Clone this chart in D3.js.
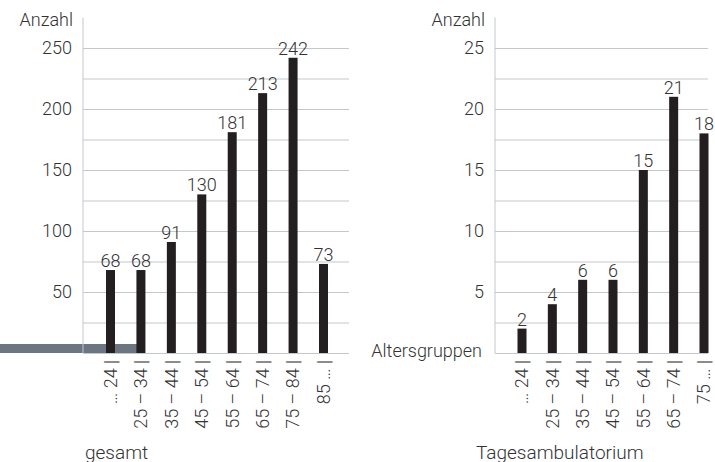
<!DOCTYPE html>
<html>
<head>
<meta charset="utf-8">
<script src="https://cdn.jsdelivr.net/npm/d3@7"></script>
<style>
  body { margin: 0; background: #fff; }
  svg text { font-family: Roboto, "Liberation Sans", Arial, sans-serif; font-weight: 300; fill: #333; }
</style>
</head>
<body>
<div id="container"></div>
<script>
//Data
const groupsAll = ['… 24', '25 – 34', '35 – 44', '45 – 54', '55 – 64', '65 – 74', '75 – 84', '85 …'];
const valuesAll = [68, 68, 91, 130, 181, 213, 242, 73];
const ticksAll = [50, 100, 150, 200, 250];
const gridAll = [0, 25, 50, 75, 100, 125, 150, 175, 200, 225, 250];

const groupsTages = ['… 24', '25 – 34', '35 – 44', '45 – 54', '55 – 64', '65 – 74', '75 …'];
const valuesTages = [2, 4, 6, 6, 15, 21, 18];
const ticksTages = [5, 10, 15, 20, 25];
const gridTages = [0, 2.5, 5, 7.5, 10, 12.5, 15, 17.5, 20, 22.5, 25];

const width = 715;
const height = 462;
const fontFamily = 'Roboto, "Liberation Sans", Arial, sans-serif';

//SVG creation
const svg = d3.select('#container').append('svg')
    .attr('width', width)
    .attr('height', height);

//Gray marker bar on the left
svg.append('rect')
    .attr('x', 0)
    .attr('y', 344)
    .attr('width', 140)
    .attr('height', 9)
    .attr('fill', '#6c7580');

function drawChart(opt) {
    const { groups, values, ticks, grid, maxY, axisX, right, first, last, title, titleX, xLabel } = opt;

    //Y-Scale
    const yScale = d3.scaleLinear()
        .domain([0, maxY])
        .range([353, 17.5]);

    //X-Scale (bar centers)
    const xScale = d3.scalePoint()
        .domain(groups)
        .range([first, last]);

    //Gridlines
    svg.append('g')
        .attr('transform', 'translate(' + axisX + ',0)')
        .call(d3.axisLeft(yScale).tickValues(grid).tickSize(-(right - axisX)).tickFormat(''))
        .call(g => g.select('.domain').remove())
        .call(g => g.selectAll('line').attr('stroke', '#c3c8ce').attr('stroke-width', 1));

    //Y-Axis line
    svg.append('line')
        .attr('x1', axisX).attr('x2', axisX)
        .attr('y1', yScale(maxY)).attr('y2', yScale(0))
        .attr('stroke', '#c3c8ce');

    //Y-Axis labels
    svg.append('g')
        .attr('transform', 'translate(' + (axisX - 11) + ',0)')
        .call(d3.axisLeft(yScale).tickValues(ticks).tickSize(0).tickPadding(0))
        .call(g => g.select('.domain').remove())
        .call(g => g.selectAll('text')
            .attr('font-size', 18)
            .attr('font-family', fontFamily)
            .attr('fill', '#333'));

    //Legend Y
    svg.append('text')
        .attr('x', axisX - 10)
        .attr('y', 26)
        .attr('text-anchor', 'end')
        .attr('font-size', 18)
        .text('Anzahl');

    if (xLabel) {
        svg.append('text')
            .attr('x', axisX - 13)
            .attr('y', 357)
            .attr('text-anchor', 'end')
            .attr('font-size', 18)
            .text(xLabel);
    }

    //Bars
    svg.selectAll(null)
        .data(values)
        .enter()
        .append('rect')
        .attr('x', (d, i) => xScale(groups[i]) - 4.5)
        .attr('y', d => yScale(d))
        .attr('width', 9)
        .attr('height', d => yScale(0) - yScale(d))
        .attr('fill', '#231f20');

    //Value labels
    svg.selectAll(null)
        .data(values)
        .enter()
        .append('text')
        .attr('x', (d, i) => xScale(groups[i]))
        .attr('y', d => yScale(d) - 3)
        .attr('text-anchor', 'middle')
        .attr('font-size', 18)
        .text(d => d);

    //Category labels (rotated)
    svg.selectAll(null)
        .data(groups)
        .enter()
        .append('text')
        .attr('transform', d => 'translate(' + xScale(d) + ',360) rotate(-90)')
        .attr('dy', '0.35em')
        .attr('text-anchor', 'end')
        .attr('font-size', 18)
        .text(d => d + ' |');

    //Chart title
    svg.append('text')
        .attr('x', titleX)
        .attr('y', 459)
        .attr('font-size', 19)
        .text(title);
}

drawChart({
    groups: groupsAll, values: valuesAll, ticks: ticksAll, grid: gridAll, maxY: 275,
    axisX: 83, right: 349, first: 110.5, last: 323.5,
    title: 'gesamt', titleX: 85
});

drawChart({
    groups: groupsTages, values: valuesTages, ticks: ticksTages, grid: gridTages, maxY: 27.5,
    axisX: 495, right: 708, first: 522, last: 704,
    title: 'Tagesambulatorium', titleX: 476, xLabel: 'Altersgruppen'
});
</script>
</body>
</html>
